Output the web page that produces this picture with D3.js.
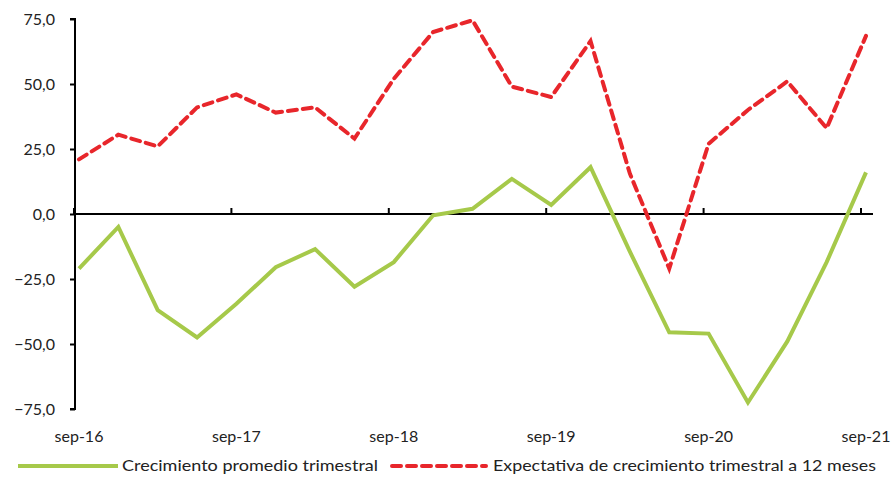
<!DOCTYPE html>
<html><head><meta charset="utf-8">
<script src="https://cdn.jsdelivr.net/npm/d3@7"></script>
<style>body{margin:0;background:#fff}svg{display:block}</style>
</head><body>
<svg id="c" width="892" height="478"></svg>
<script>
const categories = ["sep-16","dic-16","mar-17","jun-17","sep-17","dic-17","mar-18","jun-18","sep-18","dic-18","mar-19","jun-19","sep-19","dic-19","mar-20","jun-20","sep-20","dic-20","mar-21","jun-21","sep-21"];
const crecimiento = [-21,-5,-37,-47.5,-34.5,-20.5,-13.5,-28,-18.5,-0.5,2,13.5,3.5,18,-14.5,-45.5,-46,-72.5,-49,-18.5,16];
const expectativa = [21,30.5,26,41,46,39,41,29,52,70,74.5,49,45,66.5,15.5,-21,27,40,51,33,68.5];
const yTicks = [-75,-50,-25,0,25,50,75];
const xTickLabels = ["sep-16","sep-17","sep-18","sep-19","sep-20","sep-21"];
const seriesNames = ["Crecimiento promedio trimestral","Expectativa de crecimiento trimestral a 12 meses"];

const svg = d3.select("#c");
const x = d3.scalePoint().domain(categories).range([79, 866]);
const y = d3.scaleLinear().domain([-75,75]).range([409,19]);
const font = "Lato, 'Open Sans', sans-serif";
const green = "#a6c94a", red = "#e8262b";

// y axis
const yAxis = svg.append("g").attr("transform","translate(75,0)")
  .call(d3.axisLeft(y).tickValues(yTicks).tickSize(5).tickPadding(15).tickFormat(d => d3.format(".1f")(d).replace(".",",")));
yAxis.select(".domain").attr("stroke","#000").attr("stroke-width",2).attr("d",`M-5,${y(75)}H0V${y(-75)}H-5`);
yAxis.selectAll(".tick line").attr("stroke","#000").attr("stroke-width",2);
yAxis.selectAll(".tick text").attr("font-family",font).attr("font-size",16).attr("fill","#222");

// x axis at zero
const xg = svg.append("g").attr("transform",`translate(0,${y(0)})`);
xg.append("line").attr("x1",75).attr("x2",873).attr("stroke","#000").attr("stroke-width",2);
xg.selectAll("line.t").data(xTickLabels).enter().append("line")
  .attr("x1",d=>x(d)-5).attr("x2",d=>x(d)-5).attr("y1",0).attr("y2",-6)
  .attr("stroke","#000").attr("stroke-width",2);
svg.selectAll("text.xl").data(xTickLabels).enter().append("text")
  .attr("x",d=>x(d)).attr("y",442).attr("text-anchor","middle")
  .attr("font-family",font).attr("font-size",16).attr("fill","#222").text(d=>d);

const line = d3.line().x((d,i)=>x(categories[i])).y(d=>y(d));
svg.append("path").datum(crecimiento).attr("d",line).attr("fill","none")
  .attr("stroke",green).attr("stroke-width",4).attr("stroke-linejoin","miter");
svg.append("path").datum(expectativa).attr("d",line).attr("fill","none")
  .attr("stroke",red).attr("stroke-width",4).attr("stroke-dasharray","9,6").attr("stroke-linecap","round");

// legend
const lg = svg.append("g");
lg.append("line").attr("x1",18).attr("x2",118).attr("y1",466).attr("y2",466).attr("stroke",green).attr("stroke-width",4);
lg.append("text").attr("x",122).attr("y",471).attr("font-family",font).attr("font-size",16).attr("fill","#222")
  .attr("textLength",256).attr("lengthAdjust","spacingAndGlyphs").text(seriesNames[0]);
lg.append("line").attr("x1",392).attr("x2",486).attr("y1",466).attr("y2",466).attr("stroke",red).attr("stroke-width",4)
  .attr("stroke-dasharray","9,6").attr("stroke-linecap","round");
lg.append("text").attr("x",493).attr("y",471).attr("font-family",font).attr("font-size",16).attr("fill","#222")
  .attr("textLength",383).attr("lengthAdjust","spacingAndGlyphs").text(seriesNames[1]);
</script>
</body></html>
